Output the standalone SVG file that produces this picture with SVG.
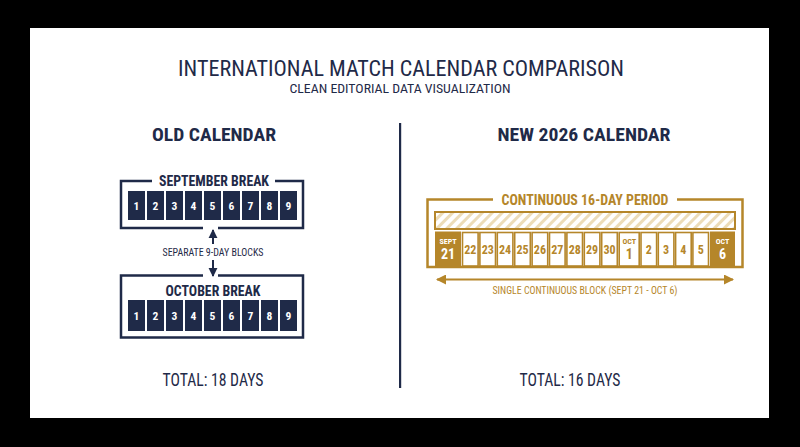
<svg xmlns="http://www.w3.org/2000/svg" width="800" height="447" viewBox="0 0 800 447">
<defs>
<style>
text{font-family:'Roboto Condensed','Liberation Sans Narrow','DejaVu Sans Condensed',Roboto,sans-serif;text-anchor:middle}
.navy{fill:#1f2a48}
.gold{fill:#b5862a}
.white{fill:#ffffff}
.b{font-weight:700}
.frameN{fill:none;stroke:#1f2a48;stroke-width:2.5}
.frameG{fill:none;stroke:#b5862a;stroke-width:2.5}
.cellN{fill:#1f2a48}
.cellW{fill:#ffffff;stroke:#b5862a;stroke-width:1.6}
.cellG{fill:#b5862a}
.num{font-size:11.5px;font-weight:700;fill:#ffffff}
.gnum{font-size:12px;font-weight:700;fill:#b5862a}
.arrN{stroke:#1f2a48;stroke-width:2;fill:none}
.arrG{stroke:#b5862a;stroke-width:2;fill:none}
</style>
<pattern id="hatch" patternUnits="userSpaceOnUse" width="7" height="7" patternTransform="rotate(45)">
<rect width="7" height="7" fill="#ffffff"/>
<rect width="3" height="7" fill="#ecdcb8"/>
</pattern>
<marker id="headN" viewBox="0 0 10 10" refX="9" refY="5" markerUnits="userSpaceOnUse" markerWidth="9" markerHeight="10" orient="auto">
<path d="M0,0 L10,5 L0,10 z" fill="#1f2a48"/>
</marker>
<marker id="headG" viewBox="0 0 10 10" refX="9" refY="5" markerUnits="userSpaceOnUse" markerWidth="11" markerHeight="10" orient="auto-start-reverse">
<path d="M0,0 L10,5 L0,10 z" fill="#b5862a"/>
</marker>
</defs>
<rect x="0" y="0" width="800" height="447" fill="#000000"/>
<rect x="30" y="28" width="739" height="390" fill="#ffffff"/>

<g id="title">
<text x="401" y="76" class="navy" font-size="22" textLength="446" lengthAdjust="spacingAndGlyphs">INTERNATIONAL MATCH CALENDAR COMPARISON</text>
<text x="400" y="93" class="navy" font-size="12.5" textLength="221" lengthAdjust="spacingAndGlyphs">CLEAN EDITORIAL DATA VISUALIZATION</text>
</g>

<g id="divider">
<rect x="399" y="123" width="2.2" height="265" fill="#1f2a48"/>
</g>

<g id="old-calendar">
<text x="214" y="141" class="navy b" font-size="18.5" textLength="124" lengthAdjust="spacingAndGlyphs">OLD CALENDAR</text>
<text x="213" y="386" class="navy" font-size="17.5" textLength="101" lengthAdjust="spacingAndGlyphs">TOTAL: 18 DAYS</text>
</g>

<g id="sept-break">
<path class="frameN" d="M152,181 H121 V228 H203 M218,228 H303 V181 H275"/>
<text x="214" y="185.5" class="navy b" font-size="14" textLength="110" lengthAdjust="spacingAndGlyphs">SEPTEMBER BREAK</text>
<rect class="cellN" x="128" y="191" width="17" height="29"/>
<rect class="cellN" x="147" y="191" width="17" height="29"/>
<rect class="cellN" x="166" y="191" width="17" height="29"/>
<rect class="cellN" x="185" y="191" width="17" height="29"/>
<rect class="cellN" x="204" y="191" width="17" height="29"/>
<rect class="cellN" x="223" y="191" width="17" height="29"/>
<rect class="cellN" x="242" y="191" width="17" height="29"/>
<rect class="cellN" x="261" y="191" width="17" height="29"/>
<rect class="cellN" x="280" y="191" width="17" height="29"/>
<text class="num" x="136.5" y="209.5">1</text>
<text class="num" x="155.5" y="209.5">2</text>
<text class="num" x="174.5" y="209.5">3</text>
<text class="num" x="193.5" y="209.5">4</text>
<text class="num" x="212.5" y="209.5">5</text>
<text class="num" x="231.5" y="209.5">6</text>
<text class="num" x="250.5" y="209.5">7</text>
<text class="num" x="269.5" y="209.5">8</text>
<text class="num" x="288.5" y="209.5">9</text>
</g>

<g id="oct-break">
<path class="frameN" d="M203,275.5 H121 V337.5 H303 V275.5 H218"/>
<text x="213" y="295.5" class="navy b" font-size="14" textLength="95" lengthAdjust="spacingAndGlyphs">OCTOBER BREAK</text>
<rect class="cellN" x="128" y="300" width="17" height="31"/>
<rect class="cellN" x="147" y="300" width="17" height="31"/>
<rect class="cellN" x="166" y="300" width="17" height="31"/>
<rect class="cellN" x="185" y="300" width="17" height="31"/>
<rect class="cellN" x="204" y="300" width="17" height="31"/>
<rect class="cellN" x="223" y="300" width="17" height="31"/>
<rect class="cellN" x="242" y="300" width="17" height="31"/>
<rect class="cellN" x="261" y="300" width="17" height="31"/>
<rect class="cellN" x="280" y="300" width="17" height="31"/>
<text class="num" x="136.5" y="320">1</text>
<text class="num" x="155.5" y="320">2</text>
<text class="num" x="174.5" y="320">3</text>
<text class="num" x="193.5" y="320">4</text>
<text class="num" x="212.5" y="320">5</text>
<text class="num" x="231.5" y="320">6</text>
<text class="num" x="250.5" y="320">7</text>
<text class="num" x="269.5" y="320">8</text>
<text class="num" x="288.5" y="320">9</text>
</g>

<g id="new-calendar">
<text x="584" y="141" class="navy b" font-size="18.5" textLength="173" lengthAdjust="spacingAndGlyphs">NEW 2026 CALENDAR</text>
<text x="570" y="386" class="navy" font-size="17.5" textLength="101" lengthAdjust="spacingAndGlyphs">TOTAL: 16 DAYS</text>
</g>

<g id="continuous-period">
<path class="frameG" d="M493,199.5 H427.5 V267 H742.5 V199.5 H677"/>
<text x="585" y="205" class="gold b" font-size="14" textLength="167" lengthAdjust="spacingAndGlyphs">CONTINUOUS 16-DAY PERIOD</text>
<rect x="435" y="212" width="300" height="17" fill="url(#hatch)" stroke="#b5862a" stroke-width="2"/>
<rect class="cellG" x="435" y="231.5" width="26" height="35"/>
<rect class="cellW" x="462.5" y="232.5" width="15.6" height="33.5"/>
<rect class="cellW" x="479.9" y="232.5" width="15.6" height="33.5"/>
<rect class="cellW" x="497.3" y="232.5" width="15.6" height="33.5"/>
<rect class="cellW" x="514.7" y="232.5" width="15.6" height="33.5"/>
<rect class="cellW" x="532.1" y="232.5" width="15.6" height="33.5"/>
<rect class="cellW" x="549.5" y="232.5" width="15.6" height="33.5"/>
<rect class="cellW" x="566.9" y="232.5" width="15.6" height="33.5"/>
<rect class="cellW" x="584.3" y="232.5" width="15.6" height="33.5"/>
<rect class="cellW" x="601.7" y="232.5" width="15.6" height="33.5"/>
<rect class="cellW" x="619.2" y="232.5" width="20" height="33.5"/>
<rect class="cellW" x="641" y="232.5" width="15.6" height="33.5"/>
<rect class="cellW" x="658.3" y="232.5" width="15.6" height="33.5"/>
<rect class="cellW" x="675.6" y="232.5" width="15.6" height="33.5"/>
<rect class="cellW" x="692.9" y="232.5" width="15.6" height="33.5"/>
<rect class="cellG" x="710" y="231.5" width="25" height="35"/>
<text class="white b" x="448" y="244" font-size="8">SEPT</text>
<text class="white b" x="448" y="259" font-size="14">21</text>
<text class="gnum" x="470.3" y="254">22</text>
<text class="gnum" x="487.7" y="254">23</text>
<text class="gnum" x="505.1" y="254">24</text>
<text class="gnum" x="522.5" y="254">25</text>
<text class="gnum" x="539.9" y="254">26</text>
<text class="gnum" x="557.3" y="254">27</text>
<text class="gnum" x="574.7" y="254">28</text>
<text class="gnum" x="592.1" y="254">29</text>
<text class="gnum" x="609.5" y="254">30</text>
<text class="gold b" x="629.2" y="244" font-size="8">OCT</text>
<text class="gold b" x="629.2" y="259" font-size="14">1</text>
<text class="gnum" x="648.8" y="254">2</text>
<text class="gnum" x="666.1" y="254">3</text>
<text class="gnum" x="683.4" y="254">4</text>
<text class="gnum" x="700.7" y="254">5</text>
<text class="white b" x="722.5" y="244" font-size="8">OCT</text>
<text class="white b" x="722.5" y="259" font-size="14">6</text>
<text x="585" y="294" class="gold" font-size="10.5" textLength="185" lengthAdjust="spacingAndGlyphs">SINGLE CONTINUOUS BLOCK (SEPT 21 - OCT 6)</text>
</g>

<g id="connectors">
<line class="arrN" x1="213" y1="244" x2="213" y2="230" marker-end="url(#headN)"/>
<text x="213" y="256" class="navy" font-size="10.5" textLength="101" lengthAdjust="spacingAndGlyphs">SEPARATE 9-DAY BLOCKS</text>
<line class="arrN" x1="213" y1="260" x2="213" y2="276" marker-end="url(#headN)"/>
<line class="arrG" x1="437" y1="279.5" x2="733" y2="279.5" marker-start="url(#headG)" marker-end="url(#headG)"/>
</g>
</svg>
